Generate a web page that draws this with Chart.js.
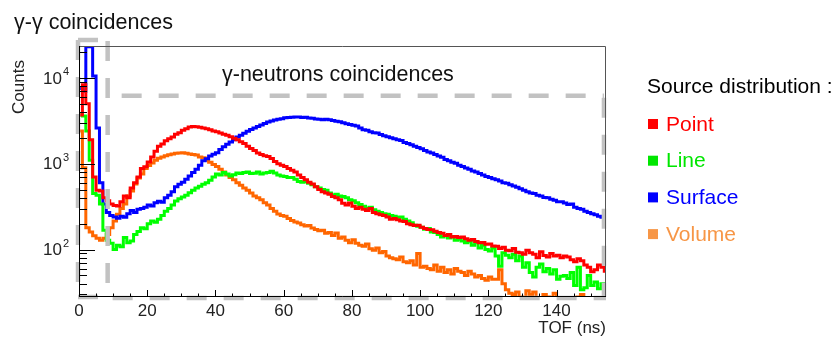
<!DOCTYPE html>
<html>
<head>
<meta charset="utf-8">
<script src="https://cdn.jsdelivr.net/npm/chart.js@4.4.1/dist/chart.umd.min.js"></script>
<style>
  html, body { margin: 0; padding: 0; background: #fff; }
</style>
</head>
<body>
<canvas id="tof" width="838" height="340"></canvas>
<script>
// TOF bins (low edge, ns), 1 ns wide
const tofNs = [0,1,2,3,4,5,6,7,8,9,10,11,12,13,14,15,16,17,18,19,20,21,22,23,24,25,26,27,28,29,
  30,31,32,33,34,35,36,37,38,39,40,41,42,43,44,45,46,47,48,49,50,51,52,53,54,55,56,57,58,59,
  60,61,62,63,64,65,66,67,68,69,70,71,72,73,74,75,76,77,78,79,80,81,82,83,84,85,86,87,88,89,
  90,91,92,93,94,95,96,97,98,99,100,101,102,103,104,105,106,107,108,109,110,111,112,113,114,115,116,117,118,119,
  120,121,122,123,124,125,126,127,128,129,130,131,132,133,134,135,136,137,138,139,140,141,142,143,144,145,146,147,148,149,
  150,151,152,153,154];
const binWidth = 1;

// counts per bin
const point = [3700,8300,5000,1900,700,490,480,400,370,340,
  325,322,360,420,400,520,600,700,880,920,
  1050,1200,1400,1600,1700,1850,1950,2050,2200,2300,
  2450,2550,2680,2720,2700,2650,2600,2550,2480,2400,
  2350,2280,2200,2150,2060,1980,1900,1800,1720,1600,
  1500,1420,1330,1280,1240,1215,1150,1060,1000,960,
  930,880,840,800,740,690,650,610,580,540,
  500,470,455,440,416,400,380,345,330,349,
  320,300,310,295,285,300,270,262,255,250,
  240,225,230,223,215,212,200,195,190,192,
  182,176,171,170,163,158,155,146,150,140,
  142,138,140,134,128,131,124,120,121,115,
  116,110,109,103,106,98,97,103,93,92,
  88,98,92,88,80,94,85,82,90,84,
  86,80,84,82,76,72,78,74,66,62,
  55,58,66,62,56];
const line = [3700,3600,2400,1100,450,430,340,168,128,118,
  100,112,108,138,120,126,150,162,180,175,
  200,215,208,225,250,280,300,330,368,390,
  410,430,460,490,520,545,575,600,640,700,
  760,740,790,760,720,745,780,770,790,800,
  770,775,800,760,780,790,815,780,740,720,
  710,690,690,660,620,610,620,590,570,540,
  520,500,490,457,430,440,420,416,400,380,
  370,350,335,319,300,310,290,280,270,262,
  258,250,244,238,240,225,215,205,192,187,
  182,172,176,160,158,150,140,146,136,142,
  128,132,126,120,125,112,122,104,112,100,
  96,104,84,64,92,86,80,88,74,84,
  62,70,54,48,62,68,55,60,52,58,
  45,49,50,46,54,38,62,34,36,50,
  38,42,35,40,32];
const surface = [7500,7000,23000,23000,10500,2600,600,340,270,250,
  240,232,245,238,262,285,270,295,300,310,
  330,322,350,365,355,400,430,470,540,575,
  610,660,720,790,860,960,1080,1140,1230,1290,
  1340,1460,1580,1680,1790,1900,2050,2140,2260,2380,
  2500,2600,2720,2830,2940,3050,3150,3220,3300,3350,
  3420,3450,3480,3500,3490,3450,3480,3400,3380,3320,
  3290,3240,3300,3240,3180,3120,3090,3000,2920,2870,
  2800,2740,2610,2480,2450,2360,2300,2280,2190,2120,
  2060,2000,1950,1900,1860,1770,1720,1660,1600,1540,
  1490,1420,1370,1330,1280,1230,1190,1120,1080,1040,
  1010,960,930,890,860,820,800,770,740,710,
  690,670,652,630,600,590,570,550,530,510,
  490,470,457,450,430,420,405,400,385,375,
  360,360,349,335,340,310,300,295,280,270,
  262,255,244,238,232];
const volume = [2400,900,180,160,145,135,128,135,150,180,
  215,257,300,340,420,480,580,680,760,880,
  950,1020,1100,1160,1200,1240,1270,1300,1320,1330,
  1340,1320,1300,1280,1260,1200,1170,1100,1040,980,
  930,860,800,740,690,650,600,560,520,490,
  455,420,400,380,350,330,300,280,260,250,
  244,230,218,210,204,195,188,190,178,171,
  165,168,155,158,146,156,135,140,128,120,
  130,118,112,109,116,102,98,104,92,95,
  84,80,78,76,82,72,70,74,66,90,
  62,64,60,58,66,56,62,54,58,52,
  60,56,54,50,56,52,48,50,46,44,
  48,45,45,58,40,34,31,30,32,28,
  27,33,30,32,26,24,30,28,26,31,
  25,24,22,24,20,22,28,30,24,22,
  27,26,22,20,21];

const seriesNames = ['Point', 'Line', 'Surface', 'Volume'];
const xTickValues = [0, 20, 40, 60, 80, 100, 120, 140];
const yTickPowers = [2, 3, 4];

const FONT = '"Liberation Sans", Arial, Helvetica, sans-serif';
const lineColors = ['#ff0000', '#00ff00', '#0000ff', '#ff6600'];
const legendColors = ['#ff0000', '#00e600', '#0000ff', '#f79646'];

const xMax = 154.5, yMin = 28, yMax = 23500;
const gammaGateNs = 8.4;      // end of the gamma-gamma window
const neutronBoxTop = 6200;   // top of the gamma-neutron window (counts)
const neutronBoxEnd = 153.9;

function histPoints(values) {
  const pts = [{x: tofNs[0], y: values[0]}];
  tofNs.forEach((t, i) => pts.push({x: t + binWidth / 2, y: values[i]}));
  pts.push({x: tofNs[tofNs.length - 1] + binWidth, y: values[values.length - 1]});
  return pts;
}

function dashed(ctx, x1, y1, x2, y2, offset) {
  ctx.lineDashOffset = offset || 0;
  ctx.beginPath();
  ctx.moveTo(x1, y1);
  ctx.lineTo(x2, y2);
  ctx.stroke();
}

const rootStyle = {
  id: 'rootStyle',
  afterDatasetsDraw(chart) {
    const ctx = chart.ctx, a = chart.chartArea, xs = chart.scales.x, ys = chart.scales.y;
    ctx.save();

    // gray dashed windows
    ctx.strokeStyle = '#c2c2c2';
    ctx.lineWidth = 4.5;
    ctx.lineCap = 'butt';
    ctx.setLineDash([20, 17]);
    const gx = xs.getPixelForValue(gammaGateNs);
    const ty = ys.getPixelForValue(neutronBoxTop);
    const rx = xs.getPixelForValue(neutronBoxEnd);
    dashed(ctx, a.left - 1, a.top - 6, a.left - 1, a.bottom, 0);
    dashed(ctx, a.left - 1, a.top - 6, gx, a.top - 6, 0);
    dashed(ctx, gx, a.top - 5, gx, a.bottom, 0);
    dashed(ctx, a.left - 1, a.bottom, gx, a.bottom, 0);
    dashed(ctx, gx, ty, rx, ty, 23);
    dashed(ctx, rx, ty + 2, rx, a.bottom, 0);
    dashed(ctx, gx, a.bottom + 1, a.right, a.bottom + 1, 32);
    ctx.setLineDash([]);

    // frame
    ctx.lineWidth = 1;
    ctx.strokeStyle = '#555';
    ctx.beginPath();
    ctx.moveTo(a.left, a.top + 0.5); ctx.lineTo(a.right - 0.5, a.top + 0.5);
    ctx.lineTo(a.right - 0.5, a.bottom);
    ctx.stroke();
    ctx.strokeStyle = '#000';
    ctx.beginPath();
    ctx.moveTo(a.left + 0.5, a.top); ctx.lineTo(a.left + 0.5, a.bottom - 0.5);
    ctx.lineTo(a.right, a.bottom - 0.5);
    ctx.stroke();

    // inner ticks, x
    ctx.beginPath();
    for (let v = 0; v <= xMax; v += 5) {
      const px = Math.round(xs.getPixelForValue(v)) + 0.5;
      const len = v % 20 === 0 ? 7 : 3.5;
      ctx.moveTo(px, a.bottom); ctx.lineTo(px, a.bottom - len);
    }
    // inner ticks, y (log)
    for (let p = 1; p <= 4; p++) {
      for (let m = 1; m <= 9; m++) {
        const v = m * Math.pow(10, p);
        if (v < yMin || v > yMax) continue;
        const py = Math.round(ys.getPixelForValue(v)) + 0.5;
        const len = m === 1 ? 16 : 8;
        ctx.moveTo(a.left, py); ctx.lineTo(a.left + len, py);
      }
    }
    ctx.stroke();
    ctx.restore();
  },
  afterDraw(chart) {
    const ctx = chart.ctx, a = chart.chartArea, xs = chart.scales.x, ys = chart.scales.y;
    ctx.save();
    ctx.fillStyle = '#222';
    ctx.textBaseline = 'middle';

    // x tick labels
    ctx.font = '17px ' + FONT;
    ctx.textAlign = 'center';
    xTickValues.forEach(v => ctx.fillText(String(v), xs.getPixelForValue(v), a.bottom + 14));

    // y tick labels 10^n
    yTickPowers.forEach(p => {
      const py = ys.getPixelForValue(Math.pow(10, p));
      ctx.font = '17px ' + FONT;
      ctx.textAlign = 'right';
      ctx.fillText('10', 62, py + 1);
      ctx.font = '11px ' + FONT;
      ctx.textAlign = 'left';
      ctx.fillText(String(p), 63, py - 6);
    });

    // axis titles
    ctx.font = '17px ' + FONT;
    ctx.textAlign = 'right';
    ctx.fillText('TOF (ns)', a.right, 328);
    ctx.save();
    ctx.translate(19, 87);
    ctx.rotate(-Math.PI / 2);
    ctx.textAlign = 'center';
    ctx.fillText('Counts', 0, 0);
    ctx.restore();

    // window labels
    ctx.fillStyle = '#111';
    ctx.font = '21.5px ' + FONT;
    ctx.textAlign = 'left';
    ctx.fillText('\u03b3-\u03b3 coincidences', 14, 23);
    ctx.fillText('\u03b3-neutrons coincidences', 222, 75);

    // legend
    ctx.font = '21px ' + FONT;
    ctx.fillStyle = '#000';
    ctx.fillText('Source distribution :', 647, 87);
    seriesNames.forEach((name, i) => {
      const cy = 124 + i * 36.7;
      ctx.fillStyle = legendColors[i];
      ctx.fillRect(648, cy - 5, 10, 10);
      ctx.fillText(name, 666, cy + 1);
    });
    ctx.restore();
  }
};

const series = [point, line, surface, volume];

new Chart(document.getElementById('tof'), {
  type: 'line',
  data: {
    datasets: series.map((vals, i) => ({
      label: seriesNames[i],
      data: histPoints(vals),
      borderColor: lineColors[i],
      borderWidth: 3,
      stepped: 'middle',
      pointRadius: 0,
      fill: false,
      clip: 0
    }))
  },
  options: {
    responsive: false,
    animation: false,
    events: [],
    layout: { padding: { top: 46, right: 232, left: 0, bottom: 0 } },
    plugins: { legend: { display: false }, tooltip: { enabled: false } },
    scales: {
      x: {
        type: 'linear', min: 0, max: xMax,
        ticks: { display: false },
        grid: { display: false },
        border: { display: false },
        afterFit: s => { s.height = 43; }
      },
      y: {
        type: 'logarithmic', min: yMin, max: yMax,
        ticks: { display: false },
        grid: { display: false },
        border: { display: false },
        afterFit: s => { s.width = 79; }
      }
    }
  },
  plugins: [rootStyle]
});
</script>
</body>
</html>
